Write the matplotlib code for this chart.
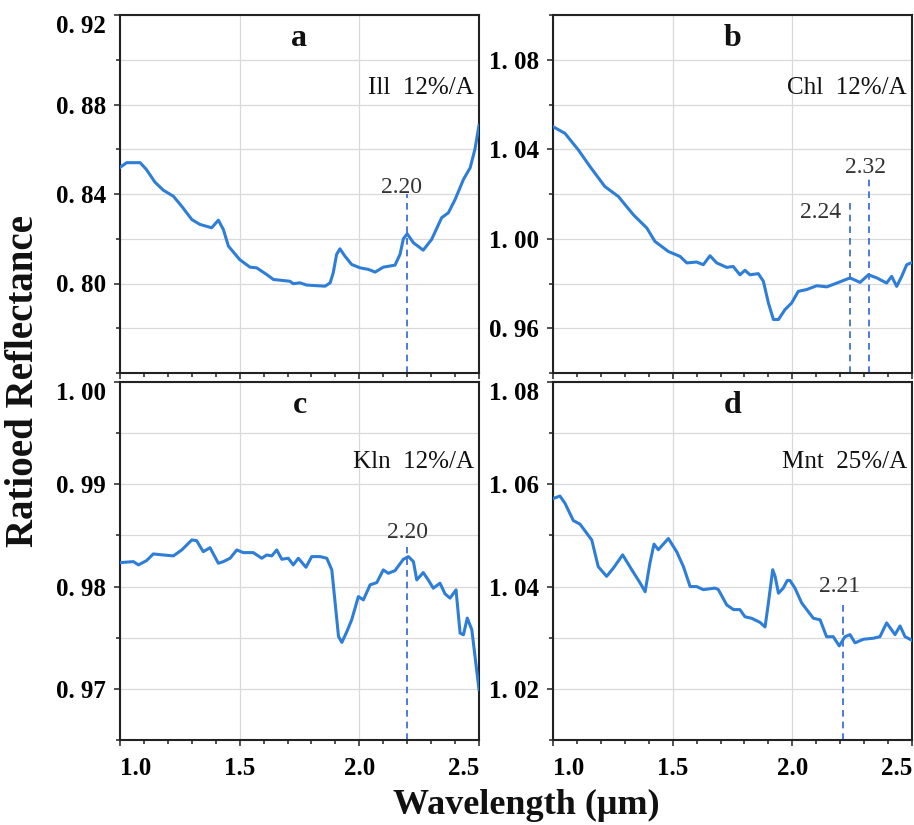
import numpy as np
import matplotlib.pyplot as plt
from matplotlib.ticker import FixedLocator, FuncFormatter

plt.rcParams['font.family'] = ['Liberation Serif', 'DejaVu Serif']

# ---- spectra (wavelength in um, ratioed reflectance) ----
a_wl = [1.0, 1.028, 1.084, 1.11, 1.146, 1.181, 1.223, 1.258, 1.30, 1.334, 1.383, 1.411,
        1.432, 1.453, 1.50, 1.543, 1.571, 1.613, 1.641, 1.71, 1.724, 1.752, 1.78, 1.857,
        1.878, 1.891, 1.905, 1.919, 1.94, 1.968, 2.003, 2.038, 2.066, 2.10, 2.149, 2.17,
        2.184, 2.20, 2.226, 2.267, 2.302, 2.344, 2.372, 2.40, 2.435, 2.463, 2.483, 2.50]
a_ref = [0.8519, 0.854, 0.854, 0.851, 0.8453, 0.8417, 0.839, 0.8345, 0.8286, 0.8264,
         0.8249, 0.8283, 0.8241, 0.8167, 0.8107, 0.8073, 0.807, 0.804, 0.8018, 0.801,
         0.7999, 0.8003, 0.7993, 0.7988, 0.8003, 0.8048, 0.813, 0.8155, 0.8122, 0.8085,
         0.807, 0.8063, 0.8051, 0.8073, 0.8082, 0.813, 0.82, 0.8222, 0.8182, 0.8149,
         0.8197, 0.8294, 0.8316, 0.8375, 0.8465, 0.8517, 0.86, 0.8707]

b_wl = [1.0, 1.05, 1.106, 1.155, 1.217, 1.273, 1.336, 1.392, 1.426, 1.482, 1.531, 1.559,
        1.60, 1.628, 1.656, 1.684, 1.726, 1.753, 1.781, 1.802, 1.823, 1.858, 1.879, 1.90,
        1.921, 1.942, 1.969, 1.997, 2.025, 2.06, 2.102, 2.144, 2.186, 2.241, 2.283, 2.318,
        2.353, 2.394, 2.415, 2.436, 2.457, 2.478, 2.50]
b_ref = [1.0501, 1.0471, 1.0397, 1.0322, 1.0233, 1.0189, 1.0107, 1.0048, 0.9988, 0.9943,
         0.9921, 0.9892, 0.9896, 0.9884, 0.9924, 0.9892, 0.9872, 0.9876, 0.9839, 0.9859,
         0.9839, 0.9844, 0.981, 0.9713, 0.9639, 0.9639, 0.9683, 0.9713, 0.9765, 0.9773,
         0.979, 0.9785, 0.9802, 0.9825, 0.9805, 0.9839, 0.9825, 0.9802, 0.9832, 0.9787,
         0.9832, 0.9884, 0.9894]

c_wl = [1.0, 1.056, 1.077, 1.111, 1.139, 1.181, 1.223, 1.258, 1.30, 1.32, 1.348, 1.376,
        1.411, 1.432, 1.46, 1.488, 1.515, 1.557, 1.592, 1.613, 1.634, 1.655, 1.676, 1.703,
        1.724, 1.745, 1.777, 1.801, 1.836, 1.864, 1.885, 1.899, 1.913, 1.927, 1.948, 1.968,
        1.996, 2.017, 2.045, 2.073, 2.10, 2.121, 2.149, 2.184, 2.205, 2.226, 2.24, 2.267,
        2.288, 2.309, 2.337, 2.358, 2.379, 2.404, 2.421, 2.435, 2.451, 2.47, 2.50]
c_ref = [0.98234, 0.98244, 0.98212, 0.98254, 0.98319, 0.98309, 0.983, 0.98358, 0.98456,
         0.98449, 0.98341, 0.9838, 0.98228, 0.98244, 0.98277, 0.98358, 0.98332, 0.98332,
         0.98277, 0.98309, 0.983, 0.98358, 0.98267, 0.98277, 0.98212, 0.98277, 0.98189,
         0.98293, 0.98293, 0.98277, 0.98163, 0.97838, 0.97512, 0.97454, 0.97561, 0.97675,
         0.97902, 0.9787, 0.98017, 0.98039, 0.98163, 0.9813, 0.98156, 0.98267, 0.98293,
         0.98244, 0.98065, 0.98137, 0.98065, 0.97984, 0.98033, 0.97929, 0.97887, 0.97968,
         0.97545, 0.97529, 0.97692, 0.97578, 0.96992]

d_wl = [1.0, 1.029, 1.05, 1.085, 1.113, 1.162, 1.189, 1.224, 1.252, 1.291, 1.329, 1.364,
        1.385, 1.405, 1.422, 1.44, 1.482, 1.517, 1.545, 1.573, 1.60, 1.628, 1.677, 1.691,
        1.726, 1.754, 1.781, 1.802, 1.83, 1.865, 1.886, 1.90, 1.918, 1.928, 1.942, 1.962,
        1.979, 1.99, 2.011, 2.039, 2.06, 2.088, 2.116, 2.143, 2.171, 2.196, 2.22, 2.241,
        2.262, 2.297, 2.339, 2.366, 2.394, 2.429, 2.45, 2.471, 2.50]
d_ref = [1.0572, 1.0577, 1.0563, 1.0529, 1.0522, 1.0491, 1.0439, 1.042, 1.0436, 1.0462,
         1.0433, 1.0407, 1.039, 1.0446, 1.0483, 1.0472, 1.0494, 1.0468, 1.0439, 1.04, 1.04,
         1.0394, 1.0397, 1.0394, 1.0364, 1.0355, 1.0355, 1.0341, 1.0338, 1.033, 1.0321,
         1.0368, 1.0433, 1.042, 1.0387, 1.0397, 1.0412, 1.0412, 1.0397, 1.0368, 1.0355,
         1.0338, 1.0335, 1.0302, 1.0302, 1.0284, 1.0302, 1.0306, 1.029, 1.0297, 1.0299,
         1.0302, 1.0329, 1.0306, 1.0323, 1.0302, 1.0295]

letters = ['a', 'b', 'c', 'd']
samples = ['Ill  12%/A', 'Chl  12%/A', 'Kln  12%/A', 'Mnt  25%/A']
# absorption features marked with dashed lines: (wavelength, label x offset, top of line)
features = [
    [(2.20, -0.022, 0.8398)],
    [(2.24, -0.12, 1.0165), (2.32, -0.016, 1.0268)],
    [(2.20, 0.0, 0.98387)],
    [(2.21, -0.011, 1.0374)],
]
label_y = [[0.8429], [1.0116, 1.0317], [0.98524], [1.0401]]

ylims = [(0.76, 0.92), (0.94, 1.10), (0.965, 1.00), (1.01, 1.08)]
ymajor = [[0.80, 0.84, 0.88, 0.92], [0.96, 1.00, 1.04, 1.08],
          [0.97, 0.98, 0.99, 1.00], [1.02, 1.04, 1.06, 1.08]]
yminor = [[0.76, 0.78, 0.82, 0.86, 0.90], [0.94, 0.98, 1.02, 1.06, 1.10],
          [0.965, 0.975, 0.985, 0.995], [1.01, 1.03, 1.05, 1.07]]
xmajor = [1.0, 1.5, 2.0, 2.5]
xminor = [1.1, 1.2, 1.3, 1.4, 1.6, 1.7, 1.8, 1.9, 2.1, 2.2, 2.3, 2.4]

wls = [a_wl, b_wl, c_wl, d_wl]
refs = [a_ref, b_ref, c_ref, d_ref]

line_col = '#2E7ED8'
dash_col = '#2F63D6'

fig = plt.figure(figsize=(9.14, 8.25), dpi=100)
W, H = 914.0, 825.0
boxes = [(120, 15, 479, 373), (553, 15, 912, 373), (120, 382, 479, 740), (553, 382, 912, 740)]

for i in range(4):
    x0, y0, x1, y1 = boxes[i]
    ax = fig.add_axes([x0 / W, 1 - y1 / H, (x1 - x0) / W, (y1 - y0) / H])
    ax.plot(wls[i], refs[i], color=line_col, lw=2.2, zorder=3, solid_joinstyle='round')
    ax.set_xlim(1.0, 2.5)
    ax.set_ylim(*ylims[i])

    ax.xaxis.set_major_locator(FixedLocator(xmajor))
    ax.xaxis.set_minor_locator(FixedLocator(xminor))
    ax.yaxis.set_major_locator(FixedLocator(ymajor[i]))
    ax.yaxis.set_minor_locator(FixedLocator(yminor[i]))
    ax.yaxis.set_major_formatter(FuncFormatter(lambda v, p: ('%.2f' % v).replace('.', '. ')))
    ax.xaxis.set_major_formatter(FuncFormatter(lambda v, p: '%.1f' % v))

    ax.grid(True, which='major', color='#d9d9d9', lw=0.9, zorder=0)
    ax.grid(True, which='minor', axis='y', color='#d9d9d9', lw=0.9, zorder=0)
    ax.set_axisbelow(True)

    ax.tick_params(axis='both', which='both', direction='out', top=False, right=False,
                   width=1.1, color='#222222')
    ax.tick_params(axis='both', which='major', length=4)
    ax.tick_params(axis='both', which='minor', length=3)
    ax.tick_params(axis='y', pad=6, labelsize=18)
    ax.tick_params(axis='x', pad=8, labelsize=18)
    for s in ax.spines.values():
        s.set_linewidth(1.5)
        s.set_color('#222222')

    for lab in ax.get_yticklabels() + ax.get_xticklabels():
        lab.set_fontweight('bold')
    if i < 2:
        ax.tick_params(axis='x', labelbottom=False)
    else:
        xl = ax.get_xticklabels()
        xl[0].set_ha('left')
        xl[-1].set_ha('right')
    if ymajor[i][-1] == ylims[i][1]:
        ax.get_yticklabels()[-1].set_va('top')

    ax.text(0.50, 0.935, letters[i], transform=ax.transAxes, ha='center', va='center',
            fontsize=23, fontweight='bold', color='#111111')
    ax.text(0.986, 0.796 if i < 2 else 0.7765, samples[i], transform=ax.transAxes,
            ha='right', va='center', fontsize=18, color='#111111')

    for (wl, dx, ytop), ly in zip(features[i], label_y[i]):
        ax.plot([wl, wl], [ylims[i][0], ytop], color=dash_col, lw=1.2,
                ls=(0, (4, 3)), zorder=2)
        ax.text(wl + dx, ly, '%.2f' % wl, ha='center', va='center', fontsize=17,
                color='#333333')

fig.text(0.026, 0.5376, 'Ratioed Reflectance', rotation=90, ha='center', va='center',
         fontsize=28, fontweight='bold', color='#111111')
fig.text(0.5757, 0.024, 'Wavelength (\u03bcm)', ha='center', va='center',
         fontsize=26, fontweight='bold', color='#111111')

fig.savefig('out.png', dpi=100)
